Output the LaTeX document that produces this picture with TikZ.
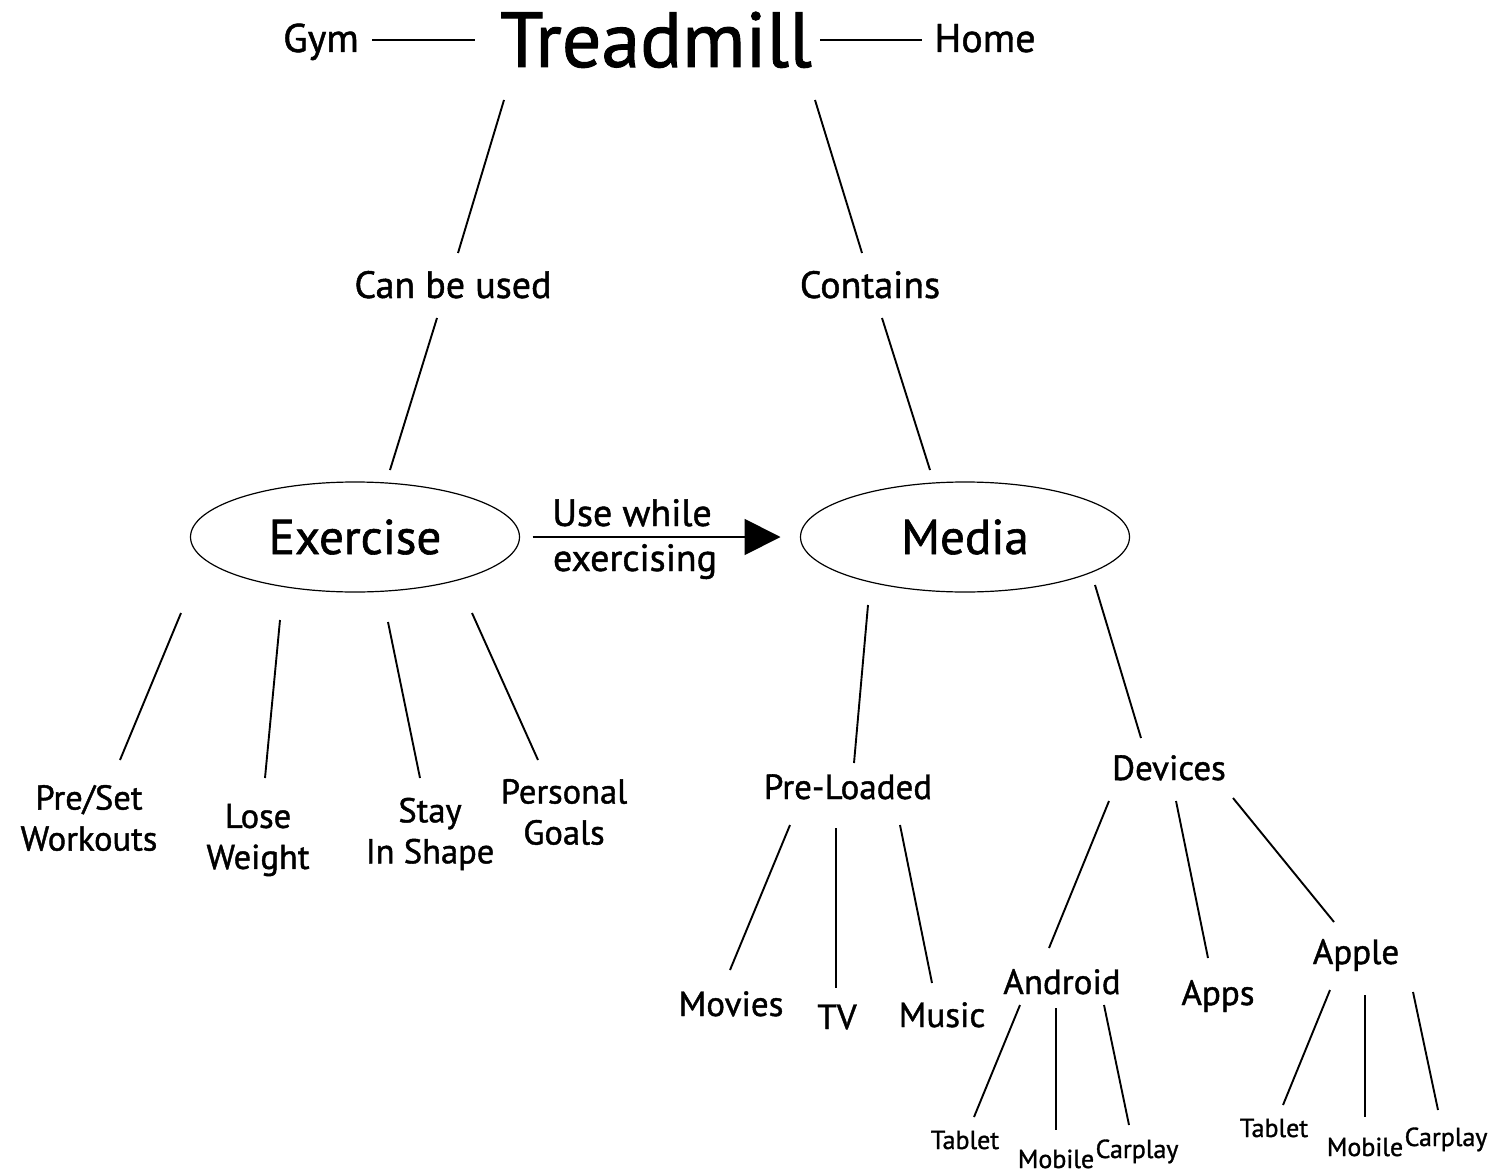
\documentclass[tikz,border=0pt]{standalone}
\usepackage{fontspec}
\setmainfont{PT Sans}[RawFeature={embolden=1.2}]
\usetikzlibrary{shapes.geometric,arrows.meta}
\begin{document}
\begin{tikzpicture}[x=1pt,y=-1pt,
  every node/.style={inner sep=0pt, outer sep=0pt},
  conn/.style={line width=1.9pt},
  big/.style={font=\fontsize{78}{90}\selectfont, anchor=base},
  side/.style={font=\fontsize{40}{44}\selectfont, anchor=base},
  mid/.style={font=\fontsize{35}{41}\selectfont, anchor=base},
  lvl/.style={font=\fontsize{38}{44}\selectfont, anchor=base},
  two/.style={font=\fontsize{34.5}{41}\selectfont, align=center},
  small/.style={font=\fontsize{26}{30}\selectfont, anchor=base},
  oval/.style={draw, ellipse, line width=1.2pt, minimum width=329pt, minimum height=110pt, font=\fontsize{49}{60}\selectfont}
]
\useasboundingbox (0,0) rectangle (1495,1174);
\fill[white] (0,0) rectangle (1495,1174);

% top row
\node[big] (tread) at (656,67) {Treadmill};
\node[side] (gym) at (321,52) {Gym};
\node[side] (home) at (985,52) {Home};
\coordinate (g1) at (372,40); \coordinate (g2) at (475,40);
\coordinate (h1) at (820,40); \coordinate (h2) at (922,40);
\draw[conn] (g1) -- (g2);
\draw[conn] (h1) -- (h2);

% second level
\node[lvl] (canbe) at (453,298) {Can be used};
\node[lvl] (contains) at (870,298) {Contains};
\coordinate (t1) at (504,100); \coordinate (t2) at (458,253);
\coordinate (t3) at (815,100); \coordinate (t4) at (862,253);
\draw[conn] (t1) -- (t2);
\draw[conn] (t3) -- (t4);
\coordinate (c1) at (437,318); \coordinate (c2) at (390,470);
\coordinate (c3) at (882,318); \coordinate (c4) at (930,470);
\draw[conn] (c1) -- (c2);
\draw[conn] (c3) -- (c4);

% ellipses
\node[oval] (exercise) at (355,537) {Exercise};
\node[oval] (media) at (965,537) {Media};
\draw[conn, -{Triangle[length=36pt,width=36pt]}, shorten <=13pt, shorten >=20pt] (exercise) -- (media);
\node[lvl] (usewhile) at (632,526) {Use while};
\node[lvl] (exercising) at (635,571) {exercising};

% exercise children
\node[two] (preset) at (89,818) {Pre/Set\\Workouts};
\node[two] (lose) at (258,840) {Lose\\Weight};
\node[two] (stay) at (430,834) {Stay\\In Shape};
\node[two] (personal) at (564,812) {Personal\\Goals};
\coordinate (e1a) at (181,613); \coordinate (e1b) at (120,760);
\coordinate (e2a) at (280,620); \coordinate (e2b) at (265,778);
\coordinate (e3a) at (388,622); \coordinate (e3b) at (420,778);
\coordinate (e4a) at (472,613); \coordinate (e4b) at (538,760);
\draw[conn] (e1a) -- (e1b);
\draw[conn] (e2a) -- (e2b);
\draw[conn] (e3a) -- (e3b);
\draw[conn] (e4a) -- (e4b);

% media children
\node[mid] (preloaded) at (848,799) {Pre-Loaded};
\node[mid] (devices) at (1169,780) {Devices};
\coordinate (m1a) at (868,605); \coordinate (m1b) at (854,763);
\coordinate (m2a) at (1095,585); \coordinate (m2b) at (1141,738);
\draw[conn] (m1a) -- (m1b);
\draw[conn] (m2a) -- (m2b);

% pre-loaded children
\node[mid] (movies) at (731,1016) {Movies};
\node[mid] (tv) at (837,1029) {TV};
\node[mid] (music) at (942,1027) {Music};
\coordinate (p1a) at (790,825); \coordinate (p1b) at (730,970);
\coordinate (p2a) at (836,828); \coordinate (p2b) at (836,988);
\coordinate (p3a) at (900,825); \coordinate (p3b) at (932,983);
\draw[conn] (p1a) -- (p1b);
\draw[conn] (p2a) -- (p2b);
\draw[conn] (p3a) -- (p3b);

% devices children
\node[mid] (android) at (1062,994) {Android};
\node[mid] (apps) at (1218,1005) {Apps};
\node[mid] (apple) at (1356,964) {Apple};
\coordinate (d1a) at (1109,801); \coordinate (d1b) at (1049,948);
\coordinate (d2a) at (1176,801); \coordinate (d2b) at (1208,958);
\coordinate (d3a) at (1233,798); \coordinate (d3b) at (1334,922);
\draw[conn] (d1a) -- (d1b);
\draw[conn] (d2a) -- (d2b);
\draw[conn] (d3a) -- (d3b);

% android children
\node[small] (atablet) at (965,1149) {Tablet};
\node[small] (amobile) at (1056,1168) {Mobile};
\node[small] (acarplay) at (1137,1158) {Carplay};
\coordinate (n1a) at (1020,1005); \coordinate (n1b) at (974,1117);
\coordinate (n2a) at (1056,1008); \coordinate (n2b) at (1056,1130);
\coordinate (n3a) at (1104,1005); \coordinate (n3b) at (1129,1125);
\draw[conn] (n1a) -- (n1b);
\draw[conn] (n2a) -- (n2b);
\draw[conn] (n3a) -- (n3b);

% apple children
\node[small] (ptablet) at (1274,1137) {Tablet};
\node[small] (pmobile) at (1365,1156) {Mobile};
\node[small] (pcarplay) at (1446,1146) {Carplay};
\coordinate (q1a) at (1330,990); \coordinate (q1b) at (1283,1105);
\coordinate (q2a) at (1365,995); \coordinate (q2b) at (1365,1117);
\coordinate (q3a) at (1413,992); \coordinate (q3b) at (1438,1110);
\draw[conn] (q1a) -- (q1b);
\draw[conn] (q2a) -- (q2b);
\draw[conn] (q3a) -- (q3b);
\end{tikzpicture}
\end{document}
